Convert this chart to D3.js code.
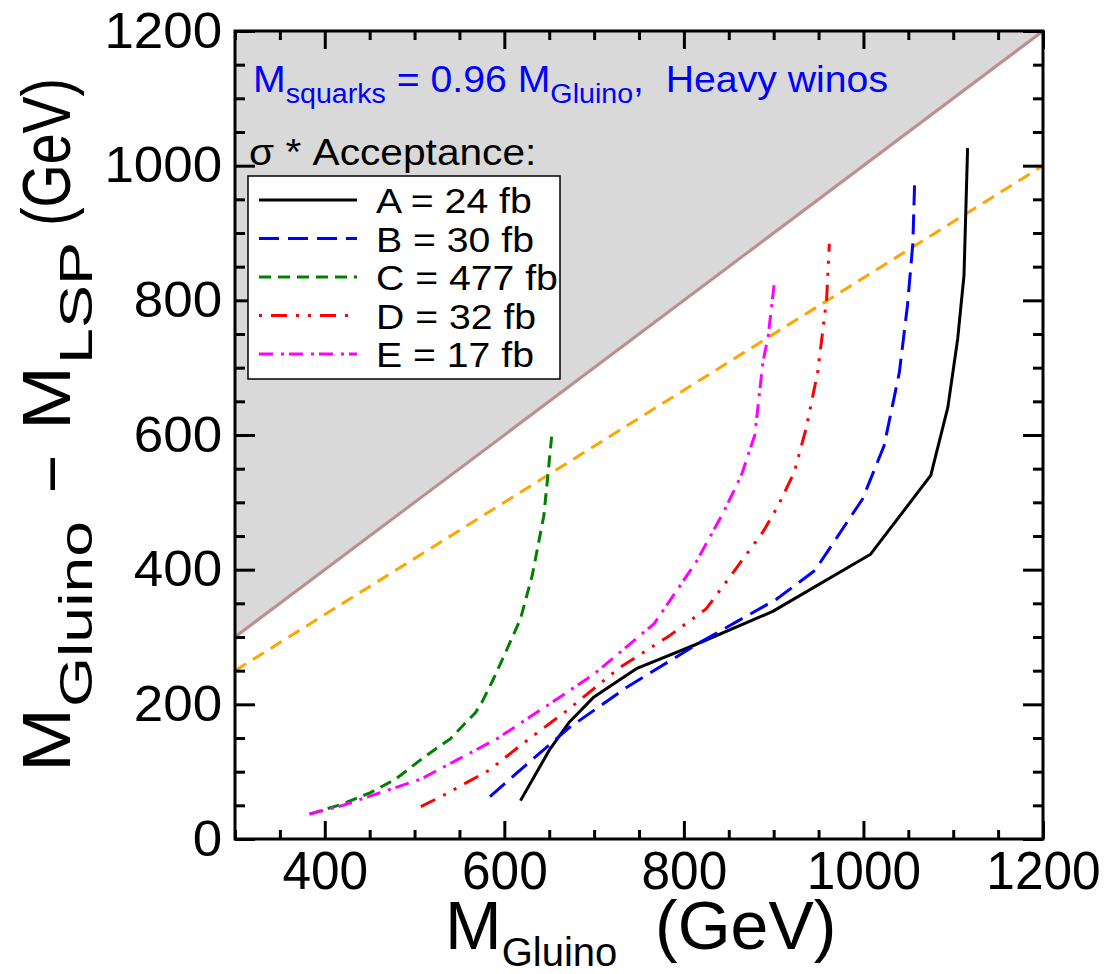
<!DOCTYPE html>
<html>
<head>
<meta charset="utf-8">
<script src="https://cdn.jsdelivr.net/npm/d3@7"></script>
<style>
  body { margin: 0; background: #fff; }
  svg text { font-family: "Liberation Sans", Arial, sans-serif; white-space: pre; }
</style>
</head>
<body>
<svg id="chart" width="1111" height="974"></svg>
<script>
// tick values
var xMajor = [400, 600, 800, 1000, 1200];
var yMajor = [0, 200, 400, 600, 800, 1000, 1200];

// series labels (legend)
var seriesLabels = ["A = 24 fb", "B = 30 fb", "C = 477 fb", "D = 32 fb", "E = 17 fb"];

// curves: [M_gluino, M_gluino - M_LSP]
var curveA = [[618,57],[651,134],[672,173],[699,210],[747,253],[810,287],[899,338],[1008,423],[1075,540],[1094,641],[1105,743],[1112,837],[1116,1026]];
var curveB = [[584,63],[625,111],[673,166],[736,225],[818,292],[903,356],[946,399],[999,505],[1023,584],[1040,693],[1049,792],[1055,884],[1057,973]];
var curveC = [[383,37],[420,52],[451,69],[479,89],[510,121],[540,149],[568,188],[575,203],[588,238],[603,282],[618,327],[631,391],[644,480],[649,547],[653,602]];
var curveD = [[507,48],[531,64],[583,102],[618,139],[670,191],[729,255],[784,302],[825,342],[855,396],[888,456],[905,495],[923,545],[936,609],[949,693],[959,802],[962,884]];
var curveE = [[383,37],[420,50],[451,64],[507,89],[551,120],[592,149],[651,201],[700,245],[767,320],[814,412],[844,485],[864,540],[879,600],[888,708],[894,748],[901,829]];

// kinematic limit and reference line
var diagonal = [[300,300],[1200,1200]];
var orangeLine = [[300,250],[1200,1000]];

var svg = d3.select("#chart");
var margin = {top: 31, right: 68, bottom: 135, left: 235};
var width = 1111 - margin.left - margin.right;   // 808
var height = 974 - margin.top - margin.bottom;   // 808
var plotLeft = margin.left, plotRight = margin.left + width;
var plotTop = margin.top, plotBottom = margin.top + height;

var x = d3.scaleLinear().domain([300, 1200]).range([plotLeft, plotRight]);
var y = d3.scaleLinear().domain([0, 1200]).range([plotBottom, plotTop]);

svg.append("defs").append("clipPath").attr("id", "clip")
  .append("rect")
  .attr("x", plotLeft).attr("y", plotTop)
  .attr("width", width).attr("height", height);

var plot = svg.append("g").attr("clip-path", "url(#clip)");

// shaded excluded region above the diagonal
var area = d3.area()
  .x(d => x(d[0]))
  .y0(y(1200))
  .y1(d => y(d[1]));
plot.append("path").datum(diagonal).attr("d", area).attr("fill", "#d9d9d9");

var line = d3.line().x(d => x(d[0])).y(d => y(d[1]));

plot.append("path").datum(diagonal).attr("d", line)
  .attr("fill", "none").attr("stroke", "#bc8f8f").attr("stroke-width", 3);

plot.append("path").datum(orangeLine).attr("d", line)
  .attr("fill", "none").attr("stroke", "#ffa500").attr("stroke-width", 3)
  .attr("stroke-dasharray", "13,8");

var series = [
  {data: curveA, color: "#000000", dash: null, offset: 0},
  {data: curveB, color: "#0000ff", dash: "20,9", offset: 0},
  {data: curveC, color: "#008000", dash: "12,7", offset: 0},
  {data: curveD, color: "#ff0000", dash: "16,9,3,9,3,9", offset: 37},
  {data: curveE, color: "#ff00ff", dash: "14,8,3,5", offset: 0}
];

series.forEach(function(s) {
  plot.append("path").datum(s.data).attr("d", line)
    .attr("fill", "none")
    .attr("stroke", s.color)
    .attr("stroke-width", 3)
    .attr("stroke-linejoin", "round")
    .attr("stroke-dasharray", s.dash);
});

// axes: ticks pointing inward on all four sides
var xMinor = d3.range(300, 1201, 50).filter(v => xMajor.indexOf(v) < 0);
var yMinor = d3.range(0, 1201, 50).filter(v => yMajor.indexOf(v) < 0);

function styleAxis(g) {
  g.select(".domain").remove();
  g.selectAll(".tick line").attr("stroke", "#000").attr("stroke-width", 3);
  g.selectAll(".tick text").attr("fill", "#000")
    .attr("font-family", "Liberation Sans, Arial, sans-serif");
}

svg.append("g").attr("transform", "translate(0," + plotBottom + ")")
  .call(d3.axisBottom(x).tickValues(xMajor).tickSize(-18).tickPadding(12).tickFormat(d3.format("d")))
  .call(styleAxis)
  .selectAll(".tick text").attr("font-size", 53).attr("transform", "scale(0.97,1)");
svg.append("g").attr("transform", "translate(0," + plotBottom + ")")
  .call(d3.axisBottom(x).tickValues(xMinor).tickSize(-9).tickFormat(""))
  .call(styleAxis);
svg.append("g").attr("transform", "translate(0," + plotTop + ")")
  .call(d3.axisTop(x).tickValues(xMajor).tickSize(-18).tickFormat(""))
  .call(styleAxis);
svg.append("g").attr("transform", "translate(0," + plotTop + ")")
  .call(d3.axisTop(x).tickValues(xMinor).tickSize(-9).tickFormat(""))
  .call(styleAxis);

svg.append("g").attr("transform", "translate(" + plotLeft + ",0)")
  .call(d3.axisLeft(y).tickValues(yMajor).tickSize(-20).tickPadding(12).tickFormat(d3.format("d")))
  .call(styleAxis)
  .selectAll(".tick text").attr("font-size", 50).attr("transform", "scale(1.06,1)");
svg.append("g").attr("transform", "translate(" + plotLeft + ",0)")
  .call(d3.axisLeft(y).tickValues(yMinor).tickSize(-10).tickFormat(""))
  .call(styleAxis);
svg.append("g").attr("transform", "translate(" + plotRight + ",0)")
  .call(d3.axisRight(y).tickValues(yMajor).tickSize(-20).tickFormat(""))
  .call(styleAxis);
svg.append("g").attr("transform", "translate(" + plotRight + ",0)")
  .call(d3.axisRight(y).tickValues(yMinor).tickSize(-10).tickFormat(""))
  .call(styleAxis);

// frame
svg.append("rect")
  .attr("x", plotLeft).attr("y", plotTop)
  .attr("width", width).attr("height", height)
  .attr("fill", "none").attr("stroke", "#000").attr("stroke-width", 3);

// x axis title
var xt = svg.append("text").attr("x", 445).attr("y", 949).attr("font-size", 68).attr("fill", "#000");
xt.append("tspan").text("M");
xt.append("tspan").attr("font-size", 40).attr("dy", 17).text("Gluino");
xt.append("tspan").attr("dy", -17).text("  (GeV)");

// y axis title, drawn piece by piece along the rotated baseline
var yTitle = svg.append("g");
function yPiece(str, size, start, len, shift) {
  yTitle.append("text")
    .attr("transform", "translate(" + (70 + shift) + "," + start + ") rotate(-90)")
    .attr("font-size", size).attr("fill", "#000")
    .attr("textLength", len).attr("lengthAdjust", "spacingAndGlyphs")
    .text(str);
}
yPiece("M", 68, 772, 64, 0);
yPiece("Gluino", 46, 707, 186, 22);
yPiece("\u2013", 68, 490, 32, 0);
yPiece("M", 68, 430, 64, 0);
yPiece("LSP", 46, 364, 122, 22);
yPiece("(GeV)", 68, 226, 148, 0);

// annotation
var note = svg.append("text")
  .attr("transform", "translate(253,92) scale(1.06,1)")
  .attr("font-size", 37).attr("fill", "#0000ff");
note.append("tspan").text("M");
note.append("tspan").attr("font-size", 27).attr("dy", 11).text("squarks");
note.append("tspan").attr("dy", -11).text(" = 0.96 M");
note.append("tspan").attr("font-size", 27).attr("dy", 11).text("Gluino");
note.append("tspan").attr("dy", -11).text(",  Heavy winos");

svg.append("text")
  .attr("transform", "translate(249,165) scale(1.13,1)")
  .attr("font-size", 36).attr("fill", "#000")
  .text("\u03c3 * Acceptance:");

// legend
var legend = svg.append("g");
legend.append("rect")
  .attr("x", 248).attr("y", 176).attr("width", 312).attr("height", 203)
  .attr("fill", "#fff").attr("stroke", "#000").attr("stroke-width", 1.5);

var ly = d3.scaleLinear().domain([0, 4]).range([200, 354]);
series.forEach(function(s, i) {
  legend.append("line")
    .attr("x1", 259).attr("x2", 357)
    .attr("y1", ly(i)).attr("y2", ly(i))
    .attr("stroke", s.color).attr("stroke-width", 3)
    .attr("stroke-dasharray", s.dash)
    .attr("stroke-dashoffset", s.offset);
  legend.append("text")
    .attr("transform", "translate(376," + (ly(i) + 13) + ") scale(1.12,1)")
    .attr("font-size", 35).attr("fill", "#000")
    .text(seriesLabels[i]);
});
</script>
</body>
</html>
